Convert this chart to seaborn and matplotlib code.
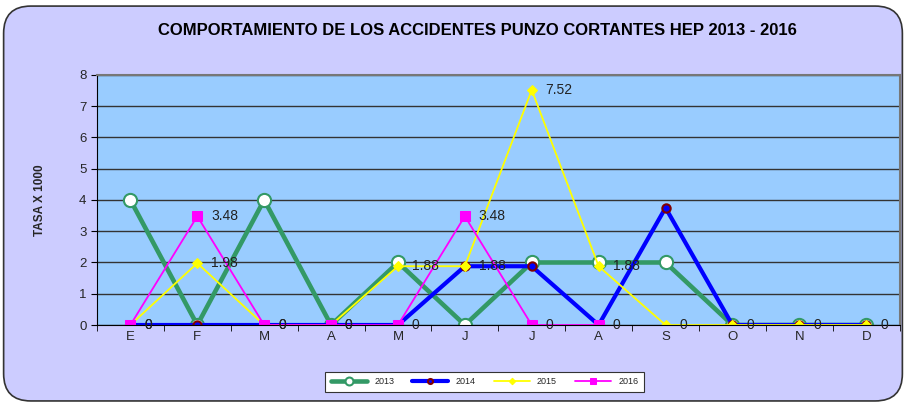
import numpy as np
import seaborn as sns
import matplotlib.pyplot as plt
from matplotlib.patches import FancyBboxPatch

meses = ['E', 'F', 'M', 'A', 'M', 'J', 'J', 'A', 'S', 'O', 'N', 'D']
tasa_2013 = [4, 0, 4, 0, 2, 0, 2, 2, 2, 0, 0, 0]
tasa_2014 = [0, 0, 0, 0, 0, 1.88, 1.88, 0, 3.75, 0, 0, 0]
tasa_2015 = [0, 1.98, 0, 0, 1.88, 1.88, 7.52, 1.88, 0, 0, 0, 0]
tasa_2016 = [0, 3.48, 0, 0, 0, 3.48, 0, 0]

sns.set_style('white')
plt.rcParams['font.family'] = ['Liberation Sans', 'DejaVu Sans']

fig = plt.figure(figsize=(9.06, 4.05), dpi=100)
fig.patch.set_facecolor('white')
fondo = FancyBboxPatch((0.004, 0.01), 0.992, 0.975, boxstyle='round,pad=0,rounding_size=0.03',
                       transform=fig.transFigure, facecolor='#CCCCFF', edgecolor='#333333',
                       linewidth=1.2, mutation_aspect=906 / 405, zorder=-10)
fig.patches.append(fondo)

ax = fig.add_axes([0.107, 0.1975, 0.886, 0.6175])
ax.set_zorder(1)
ax.set_facecolor('#99CCFF')

series = [
    ('2013', tasa_2013, dict(color='#339966', lw=3.3, marker='o', ms=9.5, mfc='white', mec='#339966', mew=1.5), False),
    ('2014', tasa_2014, dict(color='#0000FF', lw=3, marker='o', ms=6, mfc='#0000FF', mec='#800000', mew=1.5), False),
    ('2015', tasa_2015, dict(color='#FFFF00', lw=1.3, marker='D', ms=5.5, mfc='#FFFF00', mec='#FFFF00'), True),
    ('2016', tasa_2016, dict(color='#FF00FF', lw=1.3, marker='s', ms=7, mfc='#FF00FF', mec='#FF00FF'), True),
]

for nombre, vals, estilo, etiquetas in series:
    pos = np.arange(len(vals))
    sns.lineplot(x=pos, y=vals, ax=ax, label=nombre, **estilo)
    if etiquetas:
        for xi, yi in zip(pos, vals):
            ax.annotate(f'{yi:g}', (xi, yi), xytext=(10, 0), textcoords='offset points',
                        ha='left', va='center', fontsize=10, color='#222222')

ax.set_xlim(-0.5, 11.5)
ax.set_ylim(0, 8)
ax.set_yticks(range(0, 9))
ax.set_xticks(range(12))
ax.set_xticklabels(meses, fontsize=9.5)
ax.set_xticks(np.arange(-0.5, 12, 1), minor=True)
ax.tick_params(axis='x', which='major', length=0, pad=4)
ax.tick_params(axis='x', which='minor', length=4, direction='out', color='black', bottom=True)
ax.tick_params(axis='y', length=4, direction='out', color='black', left=True, labelsize=9.5)
ax.yaxis.grid(True, color='#333333', lw=1)
ax.set_axisbelow(True)
for lado in ['left', 'bottom']:
    ax.spines[lado].set_color('black')
for lado in ['top', 'right']:
    ax.spines[lado].set_color('#777777')
    ax.spines[lado].set_linewidth(1.5)

ax.set_ylabel('TASA X 1000', fontsize=8.5, fontweight='bold', labelpad=24)
ax.set_xlabel('')
fig.text(0.527, 0.925, 'COMPORTAMIENTO DE LOS ACCIDENTES PUNZO CORTANTES HEP 2013 - 2016',
         ha='center', va='center', fontsize=12, fontweight='bold', color='black')

ax.get_legend().remove()
h, l = ax.get_legend_handles_labels()
leg = fig.legend(h, l, loc='center', bbox_to_anchor=(0.535, 0.057), ncol=4, fontsize=6.5,
                 frameon=True, fancybox=False, edgecolor='#333333', framealpha=1,
                 handlelength=4, columnspacing=2, borderpad=0.6, markerscale=0.6)
leg.get_frame().set_linewidth(0.8)

fig.savefig('out.png', dpi=100, facecolor=fig.get_facecolor())
